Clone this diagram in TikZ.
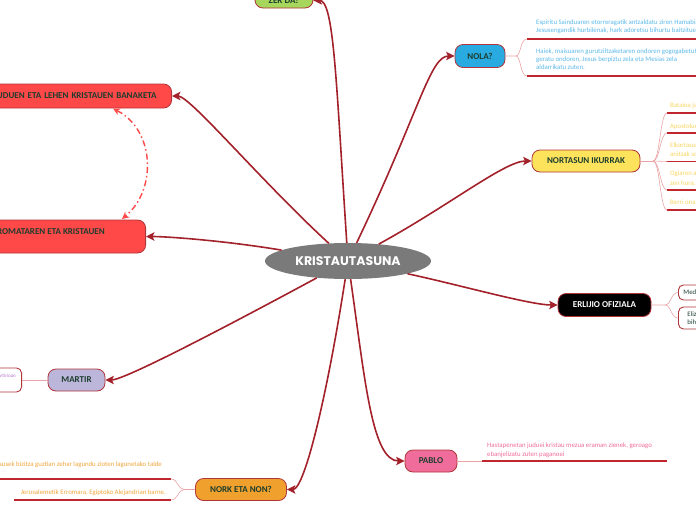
\documentclass[tikz,border=0pt]{standalone}
\usepackage{fontspec}
\setmainfont{Carlito}
\newfontfamily\titlefont{Poppins}
\usetikzlibrary{shapes.geometric,arrows.meta}
\definecolor{zerg}{HTML}{A6D65C}
\definecolor{nolab}{HTML}{29ABE2}
\definecolor{norty}{HTML}{FDE35B}
\definecolor{pablop}{HTML}{F06D9B}
\definecolor{norko}{HTML}{F0A02C}
\definecolor{martl}{HTML}{BBB6DA}
\definecolor{redb}{HTML}{FF4848}
\definecolor{ellg}{HTML}{7A7A7A}
\definecolor{cred}{HTML}{A3212A}
\definecolor{bord}{HTML}{B0353A}
\definecolor{brp}{HTML}{E9A3A6}
\definecolor{ured}{HTML}{C0262D}
\definecolor{dkg}{HTML}{1C3D2E}
\definecolor{txblue}{HTML}{5BB8E8}
\definecolor{txyel}{HTML}{F7D55E}
\definecolor{txpink}{HTML}{F06D9B}
\definecolor{txor}{HTML}{EFA53A}
\definecolor{purp}{HTML}{B075C8}
\begin{document}
\begin{tikzpicture}[x=1pt,y=1pt,
  lbl/.style={font=\fontsize{9}{10}\selectfont\bfseries, text=dkg},
  box/.style={draw=bord, line width=0.8pt, rounded corners=8pt, inner sep=0pt, lbl},
  wbox/.style={draw=bord, line width=0.9pt, fill=white, rounded corners=5pt, inner sep=0pt, font=\fontsize{6.8}{8.5}\selectfont, text=dkg},
  conn/.style={draw=cred, line width=1.6pt, -{Stealth[length=8.5pt,width=8.5pt,inset=2pt]}},
  dconn/.style={draw=redb, line width=1.4pt, dash pattern=on 6pt off 3pt on 1.5pt off 3pt, {Stealth[length=7pt,width=7pt,inset=2pt]}-{Stealth[length=7pt,width=7pt,inset=2pt]}},
  br/.style={draw=brp, line width=0.6pt},
  ul/.style={draw=ured, line width=1.2pt},
  sm/.style={font=\fontsize{6.8}{8.3}\selectfont, inner sep=0pt},
]
\useasboundingbox (0,0) rectangle (696,-520);

% centre
\node[ellipse, fill=ellg, minimum width=166pt, minimum height=36pt, inner sep=0pt,
      font=\titlefont\bfseries\fontsize{12.5}{13}\selectfont, text=white] (c) at (348,-261) {KRISTAUTASUNA};

% main topic boxes
\node[box, fill=zerg, minimum width=58pt, minimum height=15pt] (zer) at (284,-0.5) {ZER DA?};
\node[box, fill=nolab, minimum width=50pt, minimum height=23pt] (nola) at (480,-56) {NOLA?};
\node[box, fill=norty, minimum width=108pt, minimum height=22pt] (nort) at (586,-161) {NORTASUN IKURRAK};
\node[box, fill=black, text=white, minimum width=93pt, minimum height=23pt] (erl) at (604.5,-305) {ERLIJIO OFIZIALA};
\node[box, fill=pablop, minimum width=52pt, minimum height=22pt] (pablo) at (431,-461) {PABLO};
\node[box, fill=norko, minimum width=91pt, minimum height=22pt] (nork) at (241,-489.5) {NORK ETA NON?};
\node[box, fill=martl, minimum width=57pt, minimum height=22pt] (mart) at (76.5,-380) {MARTIR};
\node[box, fill=redb, anchor=east, text width=220pt, align=right, inner xsep=15pt, minimum height=24pt] (b1) at (172,-96) {JUDUEN ETA LEHEN KRISTAUEN BANAKETA};
\node[box, fill=redb, anchor=east, minimum width=250pt, minimum height=33pt] (b2) at (146,-236.5) {};
\node[lbl, anchor=base east, inner sep=0pt] (b2t) at (105,-234.5) {ERROMATAREN ETA KRISTAUEN};

% connectors from centre
\draw[conn] (c) .. controls (336,-80) and (334,0) .. (zer.east);
\draw[conn] (c) .. controls (420,-110) and (430,-56) .. (nola.west);
\draw[conn] (c) .. controls (450,-205) and (505,-161) .. (nort.west);
\draw[conn] (c) .. controls (460,-285) and (530,-305) .. (erl.west);
\draw[conn] (c) .. controls (365,-380) and (372,-461) .. (pablo.west);
\draw[conn] (c) .. controls (328,-390) and (305,-489.5) .. (nork.east);
\draw[conn] (c) .. controls (235,-322) and (125,-380) .. (mart.east);
\draw[conn] (c) .. controls (220,-240) and (165,-236.5) .. (b2.east);
\draw[conn] (c) .. controls (260,-180) and (190,-96) .. (b1.east);

% dashed relation
\coordinate (d1) at (113,-108.5);
\coordinate (d2) at (122,-219);
\draw[dconn] (d1) .. controls (155,-130) and (157,-190) .. (d2);

% NOLA? branches
\coordinate (nb) at (516,-56);
\coordinate (n1) at (527,-39);
\coordinate (n2) at (527,-76);
\draw[br] (nola.east) -- (nb) .. controls (521,-56) and (520,-39) .. (n1);
\draw[br] (nb) .. controls (521,-56) and (520,-76) .. (n2);
\draw[ul] (n1) -- ++(180,0);
\draw[ul] (n2) -- ++(180,0);
\node[sm, text=txblue, anchor=base west] (nt1) at (536,-24) {Espiritu Sainduaren etorreragatik antzaldatu ziren Hamabiak,};
\node[sm, text=txblue, anchor=base west] (nt2) at (536,-32.3) {Jesusengandik hurbilenak, hark adoretsu bihurtu baitzituen.};
\node[sm, text=txblue, anchor=base west] (nt3) at (536,-53.3) {Haiek, maisuaren gurutziltzaketaren ondoren gogogabetuta};
\node[sm, text=txblue, anchor=base west] (nt4) at (536,-61.6) {geratu ondoren, Jesus berpiztu zela eta Mesias zela};
\node[sm, text=txblue, anchor=base west] (nt5) at (536,-69.9) {aldarrikatu zuten.};

% NORTASUN IKURRAK branches
\coordinate (kb) at (653,-161);
\draw[br] (nort.east) -- (kb);
\foreach \yy/\nm in {113/k1,133/k2,161.5/k3,190/k4,210/k5}{
  \coordinate (\nm) at (667,-\yy);
  \draw[br] (kb) .. controls (660,-161) and (660,-\yy) .. (\nm);
  \draw[ul] (\nm) -- ++(60,0);
}
\node[sm, text=txyel, anchor=base west] (kt1) at (670,-107.7) {Bataioa jaso};
\node[sm, text=txyel, anchor=base west] (kt2) at (670,-128) {Apostoluen};
\node[sm, text=txyel, anchor=base west] (kt3) at (670,-147) {Elkartasuna};
\node[sm, text=txyel, anchor=base west] (kt4) at (670,-156.3) {anitzak sortu};
\node[sm, text=txyel, anchor=base west] (kt5) at (670,-175.3) {Ogiaren apurketa};
\node[sm, text=txyel, anchor=base west] (kt6) at (670,-185.3) {zen hura, eta};
\node[sm, text=txyel, anchor=base west] (kt7) at (670,-204) {Berri ona};

% ERLIJIO OFIZIALA branches
\node[wbox, anchor=west, minimum height=15pt, text width=80pt, align=left, inner xsep=5pt] (eb1) at (678,-292.5) {Mediolanoko ediktua};
\node[wbox, anchor=west, minimum height=22pt, text width=80pt, align=left, inner xsep=9pt] (eb2) at (678,-318) {Eliza ofizial\\bihurtu zen};
\coordinate (eb) at (665,-305);
\draw[br] (erl.east) -- (eb) .. controls (671,-305) and (671,-292.5) .. (eb1.west);
\draw[br] (eb) .. controls (671,-305) and (671,-318) .. (eb2.west);

% PABLO
\coordinate (p1) at (482,-461);
\draw[br] (pablo.east) -- (p1);
\draw[ul] (p1) -- (667,-461);
\node[sm, text=txpink, anchor=base west] (pt1) at (487,-447.7) {Hastapenetan juduei kristau mezua eraman zienek, geroago};
\node[sm, text=txpink, anchor=base west] (pt2) at (487,-456) {ebanjelizatu zuten paganoei};

% NORK ETA NON?
\coordinate (ob) at (184,-489.5);
\coordinate (o1) at (171,-479);
\coordinate (o2) at (171,-500);
\draw[br] (nork.west) -- (ob) .. controls (178,-489.5) and (178,-479) .. (o1);
\draw[br] (ob) .. controls (178,-489.5) and (178,-500) .. (o2);
\draw[ul] (o1) -- (-10,-479);
\draw[ul] (o2) -- (14,-500);
\node[sm, text=txor, anchor=base east] (ot1) at (162,-466) {Jesusek bizitza guztian zehar lagundu zioten lagunetako talde};
\node[sm, text=txor, anchor=base east] (ot2) at (166,-494.3) {Jerusalemetik Erromara, Egiptoko Alejandrian barne.};

% MARTIR
\node[wbox, anchor=east, minimum width=60pt, minimum height=24pt] (mbox) at (22,-380) {};
\draw[br] (mart.west) -- (mbox.east);
\node[font=\fontsize{5}{6}\selectfont, inner sep=0pt, text=purp, anchor=base east] (mt) at (16,-377) {martirioan};
\end{tikzpicture}
\end{document}
